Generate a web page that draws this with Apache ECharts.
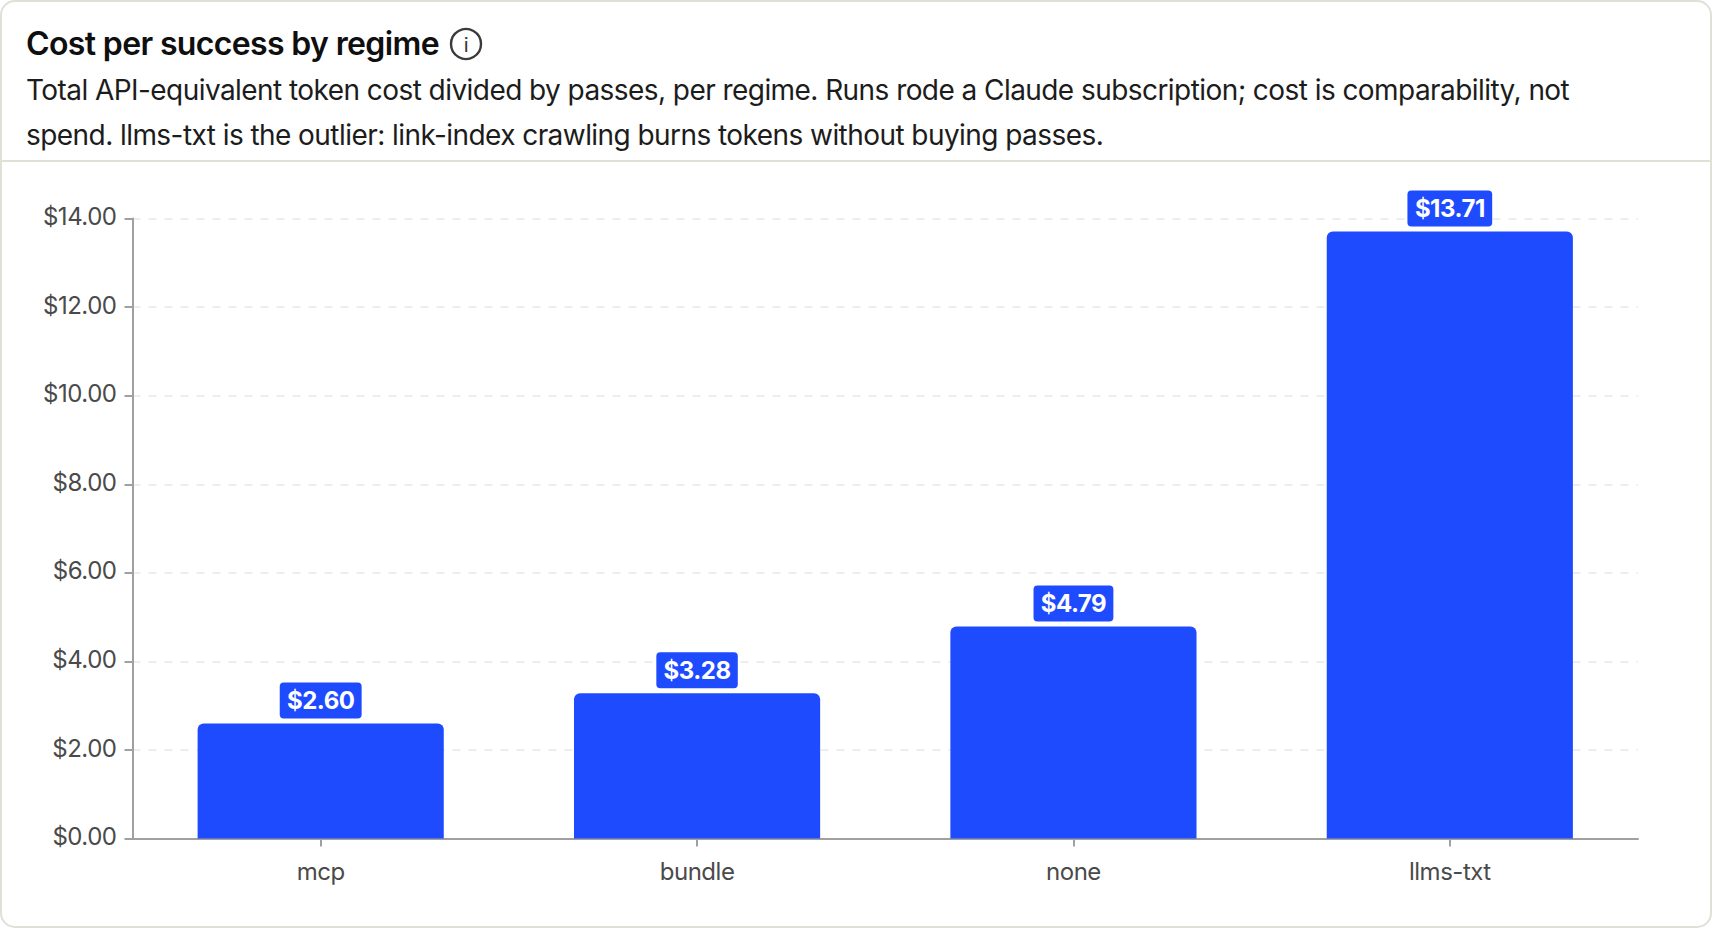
<!DOCTYPE html>
<html><head><meta charset="utf-8">
<style>html,body{margin:0;padding:0;background:#fff}#c{width:1712px;height:928px}#c svg text{letter-spacing:-0.02em}</style>
<script src="https://cdn.jsdelivr.net/npm/echarts@6/dist/echarts.min.js"></script>
</head><body><div id="c"></div>
<script>
const categories = ['mcp','bundle','none','llms-txt'];
const costValues = [2.60,3.28,4.79,13.71];
const titleText = 'Cost per success by regime';
const subLine1 = 'Total API-equivalent token cost divided by passes, per regime. Runs rode a Claude subscription; cost is comparability, not';
const subLine2 = 'spend. llms-txt is the outlier: link-index crawling burns tokens without buying passes.';
const FONT = 'Inter';
const BLUE = '#1F4BFF';
const chart = echarts.init(document.getElementById('c'), null, {renderer:'svg'});
const fmt = v => '$' + Number(v).toFixed(2);
chart.setOption({
  animation:false,
  backgroundColor:'#fff',
  textStyle:{fontFamily:FONT},
  title:[
    {text:titleText,left:26,top:24,padding:0,textStyle:{fontFamily:FONT,fontSize:32,fontWeight:600,color:'#0f0f0f',lineHeight:38}},
    {text:subLine1,left:26,top:72,padding:0,textStyle:{fontFamily:FONT,fontSize:28,fontWeight:400,color:'#1c1c1c',lineHeight:36}},
    {text:subLine2,left:26,top:116.5,padding:0,textStyle:{fontFamily:FONT,fontSize:28,fontWeight:400,color:'#1c1c1c',lineHeight:36}}
  ],
  graphic:[
    {type:'rect',silent:true,z:-1,shape:{x:1,y:1,width:1710,height:926,r:14},style:{fill:'#fff',stroke:'#dfe0d6',lineWidth:2}},
    {type:'line',silent:true,shape:{x1:1,y1:161,x2:1711,y2:161},style:{stroke:'#dfe0d6',lineWidth:2}},
    {type:'circle',silent:true,shape:{cx:466,cy:44,r:15},style:{fill:'none',stroke:'#3a3a3a',lineWidth:2.4}},
    {type:'text',silent:true,x:466,y:45,style:{text:'i',fontFamily:FONT,fontSize:20,fill:'#333',align:'center',verticalAlign:'middle'}}
  ],
  grid:{left:132.5,right:74,top:218.6,bottom:89.4,containLabel:false},
  xAxis:{type:'category',data:categories,
    axisLine:{lineStyle:{color:'#a0a0a0',width:2}},
    axisTick:{show:true,alignWithLabel:true,length:8,lineStyle:{color:'#a0a0a0',width:2}},
    axisLabel:{fontFamily:FONT,fontSize:24,color:'#4a4a4a',margin:21}},
  yAxis:{type:'value',min:0,max:14,interval:2,
    axisLine:{show:true,lineStyle:{color:'#a0a0a0',width:2}},
    axisTick:{show:true,length:8,lineStyle:{color:'#a0a0a0',width:2}},
    axisLabel:{margin:16,formatter:v=>'{a|'+fmt(v)+'}',
      rich:{a:{fontFamily:FONT,fontSize:24,color:'#4a4a4a',padding:[0,0,4,0]}}},
    splitLine:{show:true,lineStyle:{color:'#eeeeee',width:2,type:[8,8]}}},
  series:[{type:'bar',data:costValues,barWidth:'65.4%',
    itemStyle:{color:BLUE,borderRadius:[6,6,0,0]},
    label:{show:true,position:'top',distance:5,formatter:p=>fmt(p.value),
      fontFamily:FONT,fontSize:24,fontWeight:700,color:'#fff',
      backgroundColor:BLUE,borderRadius:4,padding:[6,6,6,6]}}]
});
</script></body></html>
